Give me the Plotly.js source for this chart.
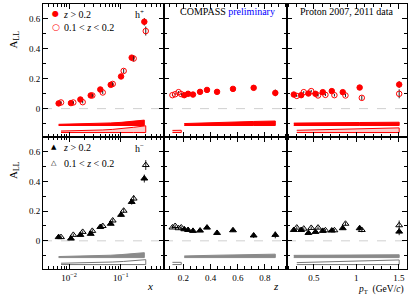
<!DOCTYPE html>
<html><head><meta charset="utf-8">
<script src="https://cdn.plot.ly/plotly-3.0.1.min.js"></script>
<style>html,body{margin:0;padding:0;background:#fff}#c{width:411px;height:298px}</style>
</head><body><div id="c"></div>
<script>
// ---------- data ----------
// h+ vs x
var xHi = [0.0063, 0.0109, 0.0166, 0.0263, 0.0403, 0.0641, 0.1015, 0.163, 0.286];
var xLo = [0.0070, 0.0121, 0.0184, 0.0282, 0.0449, 0.0700, 0.114, 0.178, 0.305];
var hpXHi = [0.035, 0.037, 0.061, 0.088, 0.128, 0.159, 0.215, 0.341, 0.581];
var hpXHiErr = [0.006, 0.006, 0.007, 0.007, 0.008, 0.009, 0.011, 0.017, 0.025];
var hpXLo = [0.041, 0.041, 0.043, 0.088, 0.108, 0.165, 0.252, 0.335, 0.519];
var hpXLoErr = [0.007, 0.007, 0.008, 0.009, 0.010, 0.011, 0.014, 0.020, 0.030];
var hpXHiSys = [0.008, 0.009, 0.010, 0.012, 0.014, 0.017, 0.021, 0.027, 0.036];
var hpXLoSys = [0.010, 0.011, 0.012, 0.014, 0.017, 0.021, 0.027, 0.035, 0.045];
// h- vs x
var hmXHi = [0.025, 0.015, 0.040, 0.047, 0.093, 0.115, 0.175, 0.262, 0.420];
var hmXHiErr = [0.007, 0.007, 0.008, 0.008, 0.009, 0.010, 0.012, 0.018, 0.027];
var hmXLo = [0.025, 0.040, 0.060, 0.067, 0.100, 0.137, 0.203, 0.285, 0.511];
var hmXLoErr = [0.008, 0.008, 0.009, 0.010, 0.011, 0.012, 0.015, 0.022, 0.033];
var hmXHiSys = [0.007, 0.008, 0.009, 0.011, 0.013, 0.016, 0.020, 0.026, 0.033];
var hmXLoSys = [0.009, 0.010, 0.011, 0.012, 0.014, 0.017, 0.021, 0.027, 0.033];
// vs z
var zHi = [0.207, 0.235, 0.271, 0.323, 0.374, 0.448, 0.565, 0.717, 0.876];
var zLo = [0.12, 0.14, 0.165, 0.185];
var hpZHi = [0.090, 0.099, 0.094, 0.112, 0.125, 0.112, 0.132, 0.139, 0.105];
var hpZHiErr = [0.006, 0.006, 0.006, 0.007, 0.007, 0.008, 0.010, 0.016, 0.022];
var hpZLo = [0.090, 0.096, 0.110, 0.097];
var hpZLoErr = [0.007, 0.007, 0.007, 0.007];
var hpZHiSys = [0.013, 0.014, 0.015, 0.016, 0.018, 0.020, 0.023, 0.027, 0.030];
var hpZLoSys = [0.014, 0.014, 0.015, 0.015];
var hmZHi = [0.078, 0.073, 0.067, 0.069, 0.089, 0.053, 0.071, 0.036, 0.040];
var hmZHiErr = [0.007, 0.007, 0.007, 0.008, 0.008, 0.009, 0.011, 0.017, 0.023];
var hmZLo = [0.090, 0.100, 0.085, 0.090];
var hmZLoErr = [0.008, 0.008, 0.008, 0.008];
var hmZHiSys = [0.011, 0.012, 0.013, 0.014, 0.015, 0.016, 0.018, 0.021, 0.023];
var hmZLoSys = [0.015, 0.015, 0.015, 0.015];
// vs pT
var ptHi = [0.265, 0.352, 0.437, 0.520, 0.606, 0.712, 0.841, 1.040, 1.505];
var ptLo = [0.300, 0.382, 0.470, 0.550, 0.637, 0.743, 0.873, 1.065, 1.505];
var hpPtHi = [0.094, 0.090, 0.101, 0.099, 0.110, 0.117, 0.110, 0.141, 0.161];
var hpPtHiErr = [0.006, 0.006, 0.006, 0.007, 0.007, 0.008, 0.009, 0.012, 0.022];
var hpPtLo = [0.085, 0.110, 0.117, 0.088, 0.092, 0.090, 0.088, 0.072, 0.099];
var hpPtLoErr = [0.007, 0.007, 0.008, 0.008, 0.008, 0.009, 0.010, 0.014, 0.030];
var hpPtHiSys = [0.016, 0.016, 0.017, 0.017, 0.018, 0.018, 0.019, 0.020, 0.022];
var hpPtLoSys = [0.015, 0.016, 0.017, 0.018, 0.019, 0.021, 0.023, 0.026, 0.031];
var hmPtHi = [0.073, 0.073, 0.053, 0.060, 0.067, 0.069, 0.085, 0.085, 0.062];
var hmPtHiErr = [0.007, 0.007, 0.007, 0.008, 0.008, 0.009, 0.010, 0.013, 0.024];
var hmPtLo = [0.089, 0.082, 0.087, 0.089, 0.071, 0.071, 0.115, 0.073, 0.105];
var hmPtLoErr = [0.008, 0.008, 0.009, 0.009, 0.009, 0.010, 0.011, 0.015, 0.032];
var hmPtHiSys = [0.015, 0.015, 0.016, 0.016, 0.016, 0.017, 0.017, 0.018, 0.019];
var hmPtLoSys = [0.013, 0.014, 0.015, 0.016, 0.018, 0.020, 0.022, 0.026, 0.031];

// ---------- styles ----------
var RED = '#ff0000', FONT = 'Liberation Serif';
var BASE_HI = -0.113, BASE_LO = -0.160;

function pts(xa, ya, x, y, err, symbol, color, size) {
  return {type: 'scatter', mode: 'markers', x: x, y: y, xaxis: xa, yaxis: ya,
    error_y: {type: 'data', array: err, color: '#222', thickness: 1, width: 0},
    marker: {symbol: symbol, size: size, color: color, line: {color: color, width: 1}},
    showlegend: false, hoverinfo: 'skip'};
}
function band(xa, ya, x, sys, base, fill, line) {
  var xs = x.concat(x.slice().reverse());
  var ys = sys.map(function (s) { return base + s; }).concat(x.map(function () { return base; }));
  return {type: 'scatter', mode: 'lines', x: xs, y: ys, xaxis: xa, yaxis: ya, fill: 'toself',
    fillcolor: fill, line: {color: line, width: 1}, showlegend: false, hoverinfo: 'skip'};
}
var PINK = 'rgba(255,110,110,0.35)', GREY = '#8a8a8a';

var data = [
  band('x', 'y', xHi, hpXHiSys, BASE_HI, RED, RED),
  band('x', 'y', xLo, hpXLoSys, BASE_LO, PINK, RED),
  pts('x', 'y', xHi, hpXHi, hpXHiErr, 'circle', RED, 5.5),
  pts('x', 'y', xLo, hpXLo, hpXLoErr, 'circle-open', RED, 5.5),

  band('x2', 'y2', zHi, hpZHiSys, BASE_HI, RED, RED),
  band('x2', 'y2', zLo, hpZLoSys, BASE_LO, PINK, RED),
  pts('x2', 'y2', zHi, hpZHi, hpZHiErr, 'circle', RED, 5.5),
  pts('x2', 'y2', zLo, hpZLo, hpZLoErr, 'circle-open', RED, 5.5),

  band('x3', 'y3', ptHi, hpPtHiSys, BASE_HI, RED, RED),
  band('x3', 'y3', ptLo, hpPtLoSys, BASE_LO, PINK, RED),
  pts('x3', 'y3', ptHi, hpPtHi, hpPtHiErr, 'circle', RED, 5.5),
  pts('x3', 'y3', ptLo, hpPtLo, hpPtLoErr, 'circle-open', RED, 5.5),

  band('x4', 'y4', xHi, hmXHiSys, BASE_HI, GREY, GREY),
  band('x4', 'y4', xLo, hmXLoSys, BASE_LO, '#fff', '#777'),
  pts('x4', 'y4', xHi, hmXHi, hmXHiErr, 'triangle-up', '#000', 6),
  pts('x4', 'y4', xLo, hmXLo, hmXLoErr, 'triangle-up-open', '#000', 6),

  band('x5', 'y5', zHi, hmZHiSys, BASE_HI, GREY, GREY),
  band('x5', 'y5', zLo, hmZLoSys, BASE_LO, '#fff', '#777'),
  pts('x5', 'y5', zHi, hmZHi, hmZHiErr, 'triangle-up', '#000', 6),
  pts('x5', 'y5', zLo, hmZLo, hmZLoErr, 'triangle-up-open', '#000', 6),

  band('x6', 'y6', ptHi, hmPtHiSys, BASE_HI, GREY, GREY),
  band('x6', 'y6', ptLo, hmPtLoSys, BASE_LO, '#fff', '#777'),
  pts('x6', 'y6', ptHi, hmPtHi, hmPtHiErr, 'triangle-up', '#000', 6),
  pts('x6', 'y6', ptLo, hmPtLo, hmPtLoErr, 'triangle-up-open', '#000', 6)
];

// ---------- layout ----------
var L = 43, T = 4, W = 364, H = 265;
function px(x) { return (x - L) / W; }
function py(y) { return (T + H - y) / H; }
var colDom = [[0, px(164)], [px(164), px(287)], [px(287), 1]];
var rowDom = [[py(137), 1], [0, py(137)]];

var logMinor = [];
[0.001, 0.01, 0.1].forEach(function (d) { for (var k = 2; k <= 9; k++) logMinor.push(k * d); });

function baseAxis() {
  return {showline: true, linecolor: '#000', linewidth: 1, mirror: 'allticks', ticks: 'inside',
    ticklen: 5, tickcolor: '#000', tickwidth: 1, showgrid: false, zeroline: false,
    tickfont: {family: FONT, size: 9, color: '#000'}, fixedrange: true};
}
function xAxis(col, row, anchor) {
  var a = baseAxis();
  a.domain = colDom[col]; a.anchor = anchor;
  a.showticklabels = (row === 1);
  if (col === 0) {
    a.type = 'log'; a.range = [-2.503, -0.163];
    a.tickmode = 'array'; a.tickvals = [0.01, 0.1];
    a.ticktext = ['10<sup>\u22122</sup>', '10<sup>\u22121</sup>'];
    a.minor = {tickmode: 'array', tickvals: logMinor, ticks: 'inside', ticklen: 3, tickcolor: '#000', showgrid: false};
  } else if (col === 1) {
    a.range = [0.058, 0.962]; a.tickmode = 'linear'; a.tick0 = 0; a.dtick = 0.2;
    a.minor = {dtick: 0.05, ticks: 'inside', ticklen: 3, tickcolor: '#000', showgrid: false};
  } else {
    a.range = [0.185, 1.597]; a.tickmode = 'linear'; a.tick0 = 0; a.dtick = 0.5;
    a.minor = {dtick: 0.1, ticks: 'inside', ticklen: 3, tickcolor: '#000', showgrid: false};
  }
  return a;
}
function yAxis(col, row, anchor) {
  var a = baseAxis();
  a.domain = rowDom[row]; a.anchor = anchor;
  a.range = [-0.19, 0.70]; a.tickmode = 'linear'; a.tick0 = 0; a.dtick = 0.2;
  a.showticklabels = (col === 0);
  a.minor = {dtick: 0.1, ticks: 'inside', ticklen: 3, tickcolor: '#000', showgrid: false};
  return a;
}

var layout = {
  width: 411, height: 298, margin: {l: L, r: 411 - L - W, t: T, b: 298 - T - H},
  paper_bgcolor: '#fff', plot_bgcolor: '#fff', showlegend: false,
  font: {family: FONT, size: 10, color: '#000'},
  xaxis: xAxis(0, 0, 'y'), yaxis: yAxis(0, 0, 'x'),
  xaxis2: xAxis(1, 0, 'y2'), yaxis2: yAxis(1, 0, 'x2'),
  xaxis3: xAxis(2, 0, 'y3'), yaxis3: yAxis(2, 0, 'x3'),
  xaxis4: xAxis(0, 1, 'y4'), yaxis4: yAxis(0, 1, 'x4'),
  xaxis5: xAxis(1, 1, 'y5'), yaxis5: yAxis(1, 1, 'x5'),
  xaxis6: xAxis(2, 1, 'y6'), yaxis6: yAxis(2, 1, 'x6'),
  shapes: [], annotations: []
};
['', '2', '3', '4', '5', '6'].forEach(function (s) {
  layout.shapes.push({type: 'line', xref: 'x' + s + ' domain', yref: 'y' + s, x0: 0, x1: 1, y0: 0, y1: 0,
    line: {color: '#d0d0d0', width: 1, dash: 'dash'}, layer: 'below'});
});
function ann(text, x, y, opts) {
  var a = {text: text, x: px(x), y: py(y), xref: 'paper', yref: 'paper', showarrow: false,
    xanchor: 'left', yanchor: 'middle', font: {family: FONT, size: 10, color: '#000'}};
  for (var k in opts) a[k] = opts[k];
  return a;
}
var A = layout.annotations;
// legends
A.push(ann('\u25CF', 55, 14, {xanchor: 'center', font: {family: 'DejaVu Sans', size: 8, color: RED}}));
A.push(ann('<i>z</i> > 0.2', 61, 14.5));
A.push(ann('\u25CB', 56, 27, {xanchor: 'center', font: {family: 'DejaVu Sans', size: 9, color: RED}}));
A.push(ann('0.1 < <i>z</i> < 0.2', 62, 27.5));
A.push(ann('h<sup>+</sup>', 133, 14));
A.push(ann('\u25B2', 54, 147, {xanchor: 'center', font: {family: 'DejaVu Sans', size: 7, color: '#000'}}));
A.push(ann('<i>z</i> > 0.2', 61, 147.5));
A.push(ann('\u25B3', 54, 163, {xanchor: 'center', font: {family: 'DejaVu Sans', size: 7, color: '#000'}}));
A.push(ann('0.1 < <i>z</i> < 0.2', 62, 163.5));
A.push(ann('h<sup>\u2212</sup>', 133, 148));
// panel titles
A.push(ann('COMPASS <span style="color:#0000ff">preliminary</span>', 227.5, 12, {xanchor: 'center'}));
A.push(ann('Proton 2007, 2011 data', 346.5, 12, {xanchor: 'center'}));
// axis titles
A.push(ann('A<sub>LL</sub>', 14, 39.5, {xanchor: 'center', textangle: -90, font: {family: FONT, size: 11, color: '#000'}}));
A.push(ann('A<sub>LL</sub>', 14, 170, {xanchor: 'center', textangle: -90, font: {family: FONT, size: 11, color: '#000'}}));
A.push(ann('<i>x</i>', 155, 286, {xanchor: 'right', font: {family: FONT, size: 11, color: '#000'}}));
A.push(ann('<i>z</i>', 281, 286, {xanchor: 'right', font: {family: FONT, size: 11, color: '#000'}}));
A.push(ann('<i>p</i><sub>T</sub>  (GeV/<i>c</i>)', 406, 289.5, {xanchor: 'right', font: {family: FONT, size: 9.5, color: '#000'}}));

Plotly.newPlot('c', data, layout, {staticPlot: true, displayModeBar: false});
</script></body></html>
